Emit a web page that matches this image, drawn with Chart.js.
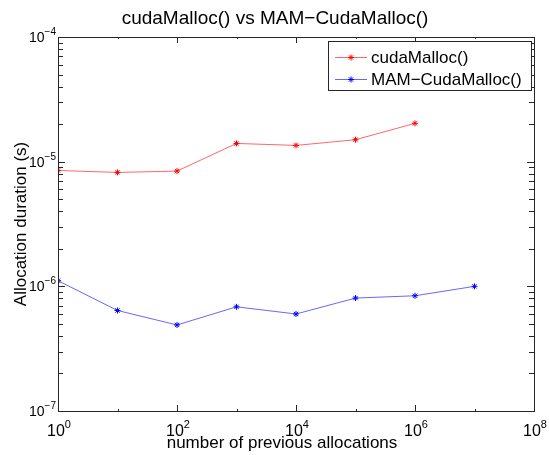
<!DOCTYPE html>
<html lang="en">
<head>
<meta charset="UTF-8">
<title>cudaMalloc() vs MAM-CudaMalloc()</title>
<script src="https://cdn.jsdelivr.net/npm/chart.js"></script>
<style>
  body { margin: 0; background: #fff; }
  #wrap { width: 549px; height: 455px; }
</style>
</head>
<body>
<div id="wrap"><canvas id="allocChart" width="549" height="455"></canvas></div>
<script>
const chartTitle = 'cudaMalloc() vs MAM\u2212CudaMalloc()';
const xLabel = 'number of previous allocations';
const yLabel = 'Allocation duration (s)';

const seriesNames = ['cudaMalloc()', 'MAM\u2212CudaMalloc()'];
const lineColors = ['rgba(255,0,0,0.6)', 'rgba(0,0,255,0.6)'];
const markColors = ['#ff0000', '#0000ff'];

const cudaX = [1, 10, 100, 1e3, 1e4, 1e5, 1e6];
const cudaY = [8.5e-6, 8.2e-6, 8.4e-6, 1.40e-5, 1.35e-5, 1.50e-5, 2.03e-5];
const mamX = [1, 10, 100, 1e3, 1e4, 1e5, 1e6, 1e7];
const mamY = [1.11e-6, 6.4e-7, 4.9e-7, 6.85e-7, 6.0e-7, 8.05e-7, 8.4e-7, 1.0e-6];

// exponents shown as tick labels
const xTickExps = [0, 2, 4, 6, 8];
const yTickExps = [-7, -6, -5, -4];

const FONT = "'Liberation Sans', Arial, sans-serif";

function toPoints(xs, ys) {
  return xs.map((v, i) => ({ x: v, y: ys[i] }));
}

function line(ctx, x1, y1, x2, y2) {
  ctx.beginPath();
  ctx.moveTo(x1, y1);
  ctx.lineTo(x2, y2);
  ctx.stroke();
}

// "10" with a raised exponent; align = 'center' or 'right'
function powerLabel(ctx, exp, x, y, align, size) {
  const expText = exp < 0 ? '\u2212' + (-exp) : String(exp);
  const expSize = Math.round(size * 0.7);
  ctx.font = size + 'px ' + FONT;
  const wBase = ctx.measureText('10').width;
  ctx.font = expSize + 'px ' + FONT;
  const wExp = ctx.measureText(expText).width;
  const total = wBase + wExp;
  const left = align === 'right' ? x - total : x - total / 2;
  ctx.textAlign = 'left';
  ctx.textBaseline = 'alphabetic';
  ctx.font = size + 'px ' + FONT;
  ctx.fillText('10', left, y);
  ctx.font = expSize + 'px ' + FONT;
  ctx.fillText(expText, left + wBase, y - Math.round(size * 0.5));
}

const matlabAxes = {
  id: 'matlabAxes',
  afterDraw(chart) {
    const { ctx, chartArea: a, scales: { x, y } } = chart;
    ctx.save();
    ctx.strokeStyle = '#262626';
    ctx.fillStyle = '#000';
    ctx.lineWidth = 1;

    // y ticks, left and right, decade majors and 2..9 minors
    for (let e = -7; e <= -4; e++) {
      for (let m = 1; m < 10; m++) {
        if (e === -4 && m > 1) break;
        const py = Math.round(y.getPixelForValue(m * Math.pow(10, e))) + 0.5;
        const len = m === 1 ? 7 : 5;
        line(ctx, a.left, py, a.left + len, py);
        line(ctx, a.right, py, a.right - len, py);
      }
    }
    // x ticks, bottom and top
    for (let e = 0; e <= 8; e++) {
      const px = Math.round(x.getPixelForValue(Math.pow(10, e))) + 0.5;
      const len = e % 2 === 0 ? 6 : 2;
      line(ctx, px, a.bottom, px, a.bottom - len);
      line(ctx, px, a.top, px, a.top + len);
    }

    ctx.strokeRect(Math.round(a.left) + 0.5, Math.round(a.top) + 0.5,
      Math.round(a.right - a.left), Math.round(a.bottom - a.top));

    // tick labels
    yTickExps.forEach(e => {
      powerLabel(ctx, e, a.left - 2, y.getPixelForValue(Math.pow(10, e)) + 5, 'right', 14);
    });
    xTickExps.forEach(e => {
      powerLabel(ctx, e, x.getPixelForValue(Math.pow(10, e)) + 1, a.bottom + 25, 'center', 16);
    });

    // title and axis labels
    ctx.textAlign = 'center';
    ctx.font = '19px ' + FONT;
    ctx.fillText(chartTitle, 275, 24);
    ctx.font = '17px ' + FONT;
    ctx.fillText(xLabel, 282, 448);
    ctx.save();
    ctx.translate(26, (a.top + a.bottom) / 2);
    ctx.rotate(-Math.PI / 2);
    ctx.fillText(yLabel, 0, 0);
    ctx.restore();

    // legend box inside the plot, top right
    const box = { left: 328, top: 41, right: 531, bottom: 90 };
    ctx.fillStyle = '#fff';
    ctx.fillRect(box.left, box.top, box.right - box.left, box.bottom - box.top);
    ctx.strokeRect(box.left + 0.5, box.top + 0.5, box.right - box.left, box.bottom - box.top);
    chart.data.datasets.forEach((ds, i) => {
      const ry = 57 + i * 22;
      ctx.strokeStyle = ds.borderColor;
      line(ctx, 335, ry + 0.5, 367, ry + 0.5);
      ctx.strokeStyle = ds.pointBorderColor;
      Chart.helpers.drawPoint(ctx, { pointStyle: 'star', radius: 3, rotation: 0, borderWidth: 1 }, 351, ry + 0.5);
      ctx.fillStyle = '#000';
      ctx.textAlign = 'left';
      ctx.font = '17px ' + FONT;
      ctx.fillText(ds.label, 371, ry + 6);
    });
    ctx.restore();
  }
};

const datasets = [toPoints(cudaX, cudaY), toPoints(mamX, mamY)].map((pts, i) => ({
  label: seriesNames[i],
  data: pts,
  borderColor: lineColors[i],
  borderWidth: 1,
  pointStyle: 'star',
  pointRadius: 3,
  pointBorderColor: markColors[i],
  pointBorderWidth: 1,
  pointBackgroundColor: markColors[i],
  tension: 0
}));

new Chart(document.getElementById('allocChart'), {
  type: 'line',
  data: { datasets },
  options: {
    responsive: false,
    animation: false,
    layout: { padding: { left: 58, right: 15, top: 37, bottom: 44 } },
    plugins: { legend: { display: false }, title: { display: false }, tooltip: { enabled: false } },
    scales: {
      x: { type: 'logarithmic', min: 1, max: 1e8, display: false },
      y: { type: 'logarithmic', min: 1e-7, max: 1e-4, display: false }
    }
  },
  plugins: [matlabAxes]
});
</script>
</body>
</html>
